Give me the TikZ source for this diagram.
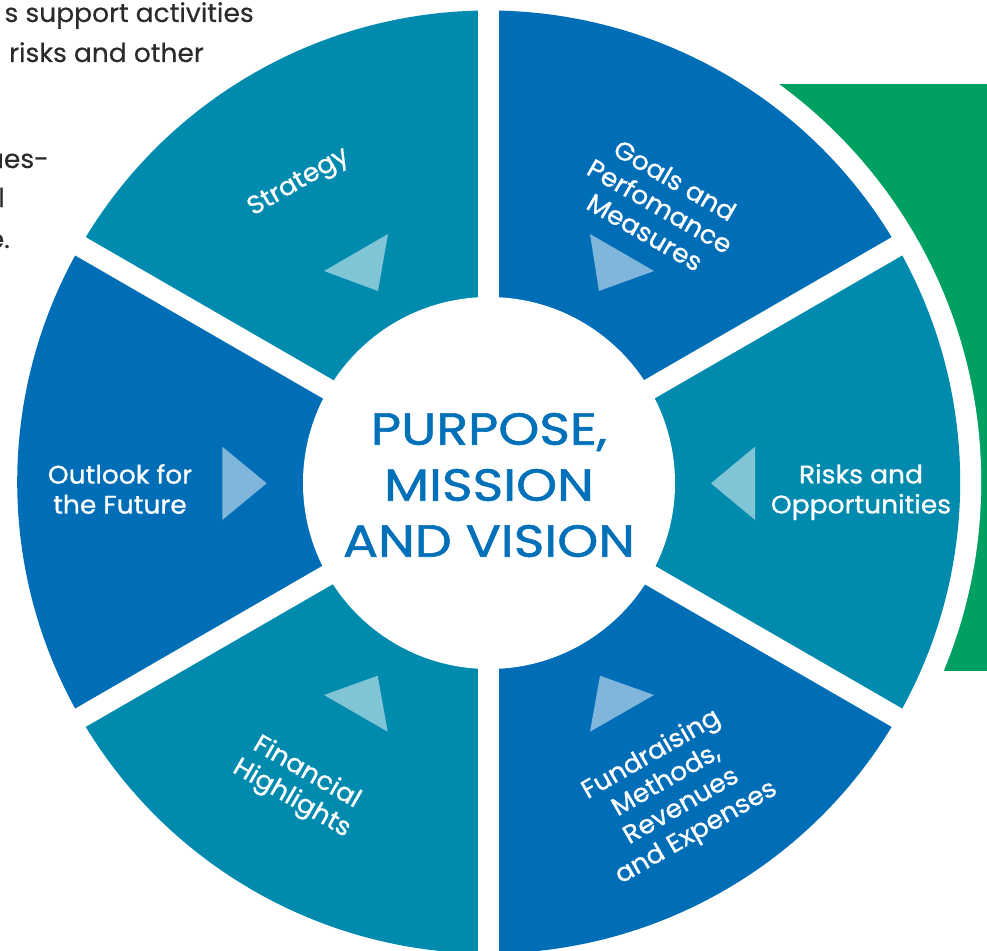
\documentclass[tikz,border=0pt]{standalone}
\usepackage{fontspec}
\usetikzlibrary{calc}
\setmainfont{Poppins}
\newfontfamily\labelfont{Poppins}[FakeStretch=1.04,FakeBold=0.8]
\newfontfamily\titlefont{Poppins}[FakeStretch=1.16,FakeBold=1.3]
\newfontfamily\bodyfont{Poppins}[FakeStretch=1.02,FakeBold=0.4]
\definecolor{segblue}{HTML}{006EB7}
\definecolor{segteal}{HTML}{008BAE}
\definecolor{boxgreen}{HTML}{00A160}
\definecolor{titleblue}{HTML}{0070B9}
\definecolor{bodygray}{HTML}{2B2B2B}
\begin{document}
\begin{tikzpicture}[x=1pt,y=-1pt,
  bodytext/.style={text=bodygray,font=\bodyfont\fontsize{26}{40}\selectfont,inner sep=0pt},
  seglabel/.style={text=white,font=\labelfont\fontsize{25.5}{30}\selectfont,align=center,inner sep=0pt},
  arrowtri/.style={fill=white,fill opacity=0.5}]
\useasboundingbox (0,0) rectangle (987,950);
\clip (0,0) rectangle (987,950);
\coordinate (C) at (488.7,482);
% partial paragraph text
\node[bodytext,anchor=base east] (p1) at (254,22) {s support activities};
\node[bodytext,anchor=base east] (p2) at (204,62) {risks and other};
\node[bodytext,anchor=base east] (p3) at (49,168) {ues-};
\node[bodytext,anchor=base east] (p4) at (5,207) {l};
\node[bodytext,anchor=base east] (p5) at (10,248) {e.};
% green panel
\fill[boxgreen] (740,84) rectangle (990,671);
% white ring
\fill[white] (C) circle[radius=492.5];
% sectors
\fill[segteal] (C) -- ++(-150:471.5) arc[start angle=-150,end angle=-90,radius=471.5] -- cycle;
\fill[segblue] (C) -- ++(-90:471.5) arc[start angle=-90,end angle=-30,radius=471.5] -- cycle;
\fill[segteal] (C) -- ++(-30:471.5) arc[start angle=-30,end angle=30,radius=471.5] -- cycle;
\fill[segblue] (C) -- ++(30:471.5) arc[start angle=30,end angle=90,radius=471.5] -- cycle;
\fill[segteal] (C) -- ++(90:471.5) arc[start angle=90,end angle=150,radius=471.5] -- cycle;
\fill[segblue] (C) -- ++(150:471.5) arc[start angle=150,end angle=210,radius=471.5] -- cycle;
% gaps
\foreach \a in {90,30,150} {
  \draw[white,line width=21pt] ($(C)+(\a:480)$) -- ($(C)+(\a+180:480)$);
}
\fill[white] (489,483) circle[radius=186];
% title
\node[text=titleblue,font=\titlefont\fontsize{45}{56}\selectfont,align=center,inner sep=0pt] (title) at (489,485) {PURPOSE,\\MISSION\\AND VISION};
% triangles
\fill[arrowtri] (388,234) -- (324,271) -- (378,291) -- cycle;
\fill[arrowtri] (590,234) -- (654,271) -- (599,291) -- cycle;
\fill[arrowtri] (222.3,446.7) -- (266.7,483.3) -- (222.3,520) -- cycle;
\fill[arrowtri] (755,446.7) -- (711,483.3) -- (755,520) -- cycle;
\fill[arrowtri] (377.7,675.7) -- (324,695) -- (387.7,731.7) -- cycle;
\fill[arrowtri] (600,675.7) -- (654,695) -- (590,731.7) -- cycle;
% labels
\node[seglabel,rotate=30] (strat) at (299,183) {Strategy};
\node[seglabel,rotate=-30] (goals) at (660,206) {Goals and\\Perfomance\\Measures};
\node[seglabel] (outlook) at (120,489) {Outlook for\\the Future};
\node[seglabel] (risks) at (861,492) {Risks and\\Opportunities};
\node[seglabel,rotate=-30] (fin) at (299,786) {Financial\\Highlights};
\node[seglabel,rotate=30] (fund) at (674,794) {Fundraising\\Methods,\\Revenues\\and Expenses};
\end{tikzpicture}
\end{document}
